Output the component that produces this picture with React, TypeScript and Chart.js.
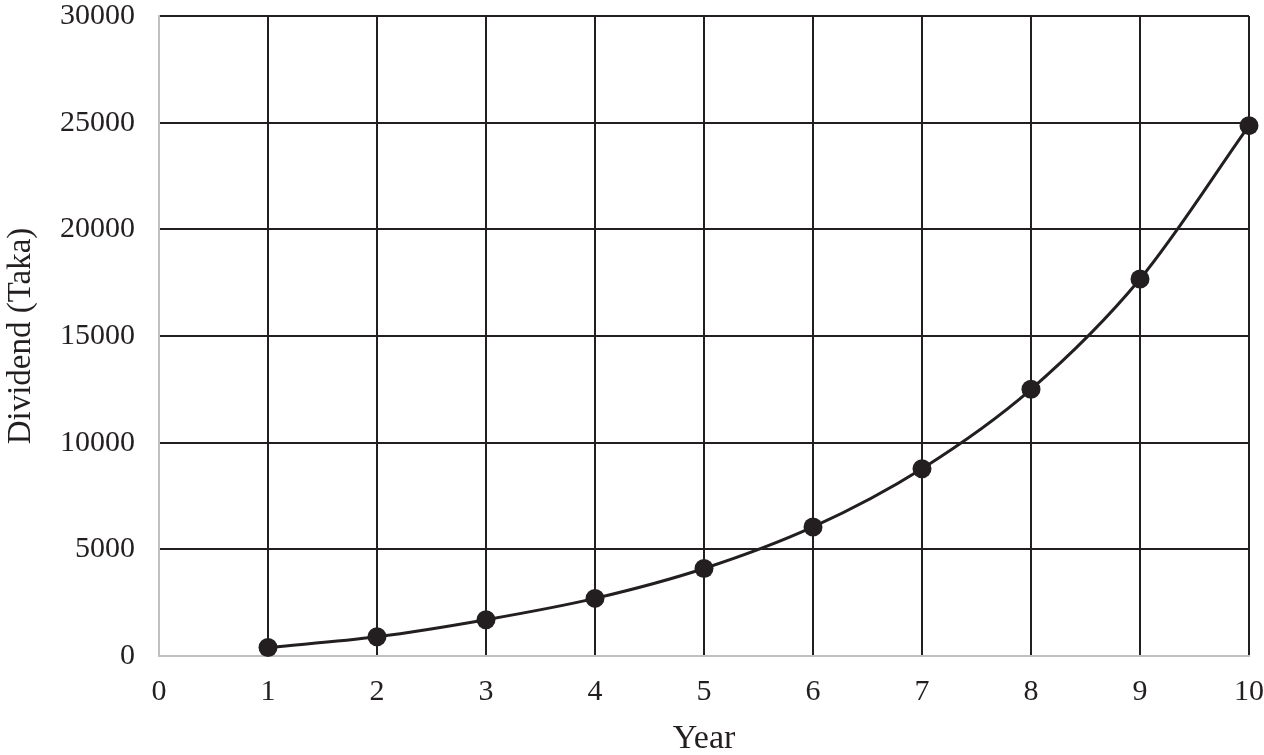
import React, { useEffect, useRef } from "react";
import { Chart, registerables } from "chart.js";

Chart.register(...registerables);

const years: number[] = [1, 2, 3, 4, 5, 6, 7, 8, 9, 10];
const dividends: number[] = [400, 900, 1700, 2700, 4100, 6050, 8780, 12500, 17670, 24860];

const xTitle = "Year";
const yTitle = "Dividend (Taka)";

const FONT = "'Liberation Serif', 'Times New Roman', serif";
const DARK = "#231f20";
const AXIS = "#c0c0c0";

export default function App() {
  const ref = useRef<HTMLCanvasElement | null>(null);

  useEffect(() => {
    if (!ref.current) return;
    const chart = new Chart(ref.current, {
      type: "line",
      data: {
        datasets: [
          {
            data: years.map((y, i) => ({ x: y, y: dividends[i] })),
            borderColor: DARK,
            backgroundColor: DARK,
            borderWidth: 3,
            pointRadius: 9.5,
            pointBackgroundColor: DARK,
            pointBorderWidth: 0,
            tension: 0.4,
            cubicInterpolationMode: "monotone",
            clip: false as any,
          },
        ],
      },
      options: {
        animation: false,
        responsive: false,
        layout: { padding: { top: 16, right: 15, left: 0, bottom: 0 } },
        plugins: { legend: { display: false }, tooltip: { enabled: false } },
        scales: {
          x: {
            type: "linear",
            min: 0,
            max: 10,
            ticks: {
              stepSize: 1,
              color: "#231f20",
              font: { family: FONT, size: 30 },
              padding: 18,
              callback: (v: any) => String(v),
            },
            grid: {
              drawTicks: false,
              lineWidth: 2,
              color: (c: any) => (c.tick && c.tick.value === 0 ? "rgba(0,0,0,0)" : DARK),
            },
            border: { display: true, color: AXIS, width: 2 },
            title: {
              display: true,
              text: xTitle,
              color: "#231f20",
              font: { family: FONT, size: 34 },
              padding: { top: 0, bottom: -4 },
            },
            afterFit: (s: any) => {
              s.height = 99;
              s.paddingLeft = 0;
              s.paddingRight = 0;
            },
          },
          y: {
            type: "linear",
            min: 0,
            max: 30000,
            ticks: {
              stepSize: 5000,
              color: "#231f20",
              font: { family: FONT, size: 30 },
              padding: 24,
              callback: (v: any) => String(v),
            },
            grid: {
              drawTicks: false,
              lineWidth: 2,
              color: (c: any) => (c.tick && c.tick.value === 0 ? "rgba(0,0,0,0)" : DARK),
            },
            border: { display: true, color: AXIS, width: 2 },
            title: {
              display: true,
              text: yTitle,
              color: "#231f20",
              font: { family: FONT, size: 33 },
              padding: { top: 2, bottom: 0 },
            },
            afterFit: (s: any) => {
              s.width = 159;
              s.paddingTop = 0;
              s.paddingBottom = 0;
            },
          },
        },
      },
    });
    return () => chart.destroy();
  }, []);

  return (
    <div style={{ position: "absolute", left: 0, top: 0, width: 1264, height: 755, background: "#fff" }}>
      <canvas ref={ref} width={1264} height={755} style={{ width: 1264, height: 755, display: "block" }} />
    </div>
  );
}
